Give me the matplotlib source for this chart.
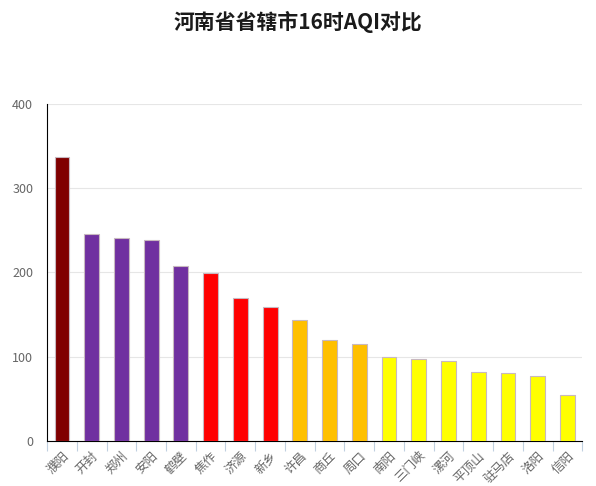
import matplotlib.pyplot as plt
import numpy as np

plt.rcParams['font.family'] = ['Noto Sans CJK SC', 'DejaVu Sans']

cities = ['濮阳', '开封', '郑州', '安阳', '鹤壁', '焦作', '济源', '新乡', '许昌',
          '商丘', '周口', '南阳', '三门峡', '漯河', '平顶山', '驻马店', '洛阳', '信阳']
aqi = [337, 246, 241, 239, 208, 199, 170, 159, 144,
       120, 115, 99, 97, 95, 82, 80, 77, 54]
colors = ['#800000'] + ['#7030A0'] * 4 + ['#FF0000'] * 3 + ['#FFC000'] * 3 + ['#FFFF00'] * 7

fig = plt.figure(figsize=(5.96, 4.86), dpi=100)
ax = fig.add_axes([0.079, 0.093, 0.898, 0.693])

x = np.arange(len(cities))
ax.bar(x, aqi, width=0.5, color=colors, edgecolor='#c8b8c0', linewidth=0.8, zorder=3)

ax.set_xlim(-0.5, len(cities) - 0.5)
ax.set_ylim(0, 400)
ax.set_yticks([0, 100, 200, 300, 400])
ax.grid(axis='y', color='#e6e6e6', linewidth=0.8, zorder=0)

ax.set_xticks(x)
ax.set_xticklabels(cities, rotation=45, ha='right', rotation_mode='anchor',
                   fontsize=9, color='#666666')
ax.set_xticks(np.arange(len(cities) + 1) - 0.5, minor=True)
ax.tick_params(axis='x', which='major', length=0, pad=6)
ax.tick_params(axis='x', which='minor', length=7, color='#c0d0e0', width=0.8)
ax.tick_params(axis='y', length=0, labelsize=9, labelcolor='#666666', pad=10)

for s in ['top', 'right']:
    ax.spines[s].set_visible(False)
ax.spines['left'].set_color('black')
ax.spines['bottom'].set_color('black')

fig.text(0.5, 0.955, '河南省省辖市16时AQI对比', ha='center', va='center',
         fontsize=15, fontweight='bold', color='#1a1a1a')

fig.savefig('out.png', dpi=100)
